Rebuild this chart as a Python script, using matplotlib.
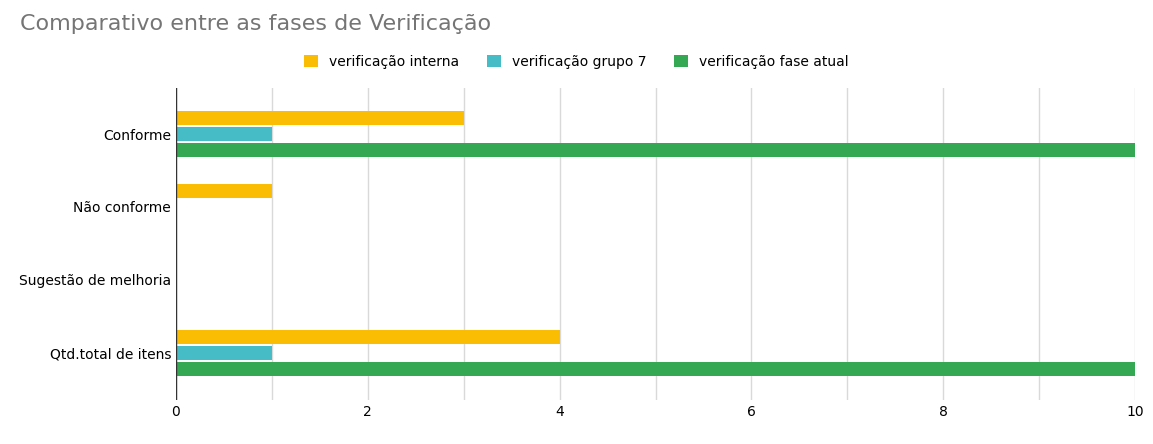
import matplotlib.pyplot as plt
import numpy as np

categories = ["Conforme", "Não conforme", "Sugestão de melhoria", "Qtd.total de itens"]
series_names = ["verificação interna", "verificação grupo 7", "verificação fase atual"]
interna = [3, 1, 0, 4]
grupo7 = [1, 0, 0, 1]
fase_atual = [10, 0, 0, 10]
colors = ["#FBBC04", "#46BDC6", "#34A853"]

fig = plt.figure(figsize=(11.53, 4.44), dpi=100)
ax = fig.add_axes([176 / 1153, 1 - 400 / 444, (1135 - 176) / 1153, (400 - 88) / 444])

y = np.arange(len(categories))
h = 14 / 73
for k, (vals, name, c) in enumerate(zip([interna, grupo7, fase_atual], series_names, colors)):
    ax.barh(y + (k - 1) * 16 / 73, vals, height=h, color=c, label=name, zorder=3)

ax.set_xlim(0, 10)
ax.set_ylim((400 - 134) / 73, (88 - 134) / 73)
ax.set_xticks(range(0, 11, 2))
ax.set_xticks(range(0, 11), minor=True)
ax.grid(axis="x", which="both", color="#d9d9d9", lw=1, zorder=0)
ax.set_yticks(y)
ax.set_yticklabels(categories, fontsize=10)
ax.tick_params(length=0, labelsize=10, which="both")
ax.axvline(0, color="#333333", lw=1, zorder=4)
for s in ax.spines.values():
    s.set_visible(False)

fig.text(20 / 1153, 1 - 24 / 444, "Comparativo entre as fases de Verificação",
         fontsize=16, color="#757575", va="center")
fig.legend(loc="center", bbox_to_anchor=(0.5, 1 - 62 / 444), ncol=3, frameon=False,
           fontsize=10, handlelength=1, handleheight=1, columnspacing=2)

fig.savefig("out.png", dpi=100)
